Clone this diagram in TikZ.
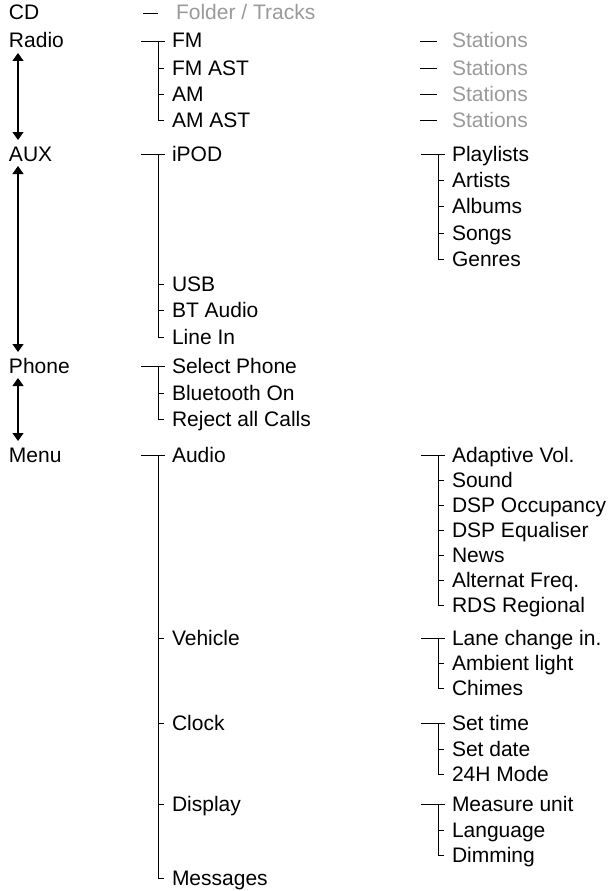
\documentclass[tikz,border=0pt]{standalone}
\usepackage{fontspec}
\setmainfont{Liberation Sans}
\usetikzlibrary{arrows.meta}
\definecolor{txtgray}{HTML}{9A9A9A}
\tikzset{
  lbl/.style={anchor=base west, inner sep=0pt, outer sep=0pt, font=\fontsize{21}{24}\selectfont},
  gry/.style={lbl, text=txtgray},
  ln/.style={line width=0.9pt, black},
  nav/.style={line width=1.2pt, black, {Triangle[width=11pt,length=8pt]}-{Triangle[width=11pt,length=8pt]}}
}
\newcommand\treeroot[2]{%
  \draw[ln] ([shift={(-31,-7)}]#1.base west) -- ([shift={(-7,-7)}]#1.base west);
  \draw[ln] ([shift={(-14,-7)}]#1.base west) |- ([shift={(-8,-7)}]#2.base west);}
\newcommand\treetick[1]{%
  \draw[ln] ([shift={(-14,-7)}]#1.base west) -- ([shift={(-8,-7)}]#1.base west);}
\newcommand\leaf[1]{%
  \draw[ln] ([shift={(-32,-7)}]#1.base west) -- ([shift={(-15,-7)}]#1.base west);}
\begin{document}
\begin{tikzpicture}[x=1pt,y=-1pt]
\useasboundingbox (0,0) rectangle (613,891);
% left column
\node[lbl] (cd) at (9,20) {CD};
\node[lbl] (radio) at (9,48) {Radio};
\node[lbl] (aux) at (9,161) {AUX};
\node[lbl] (phone) at (9,373) {Phone};
\node[lbl] (menu) at (9,462) {Menu};
\draw[nav] ([shift={(9,5)}]radio.base west) -- ([shift={(9,-21)}]aux.base west);
\draw[nav] ([shift={(9,5)}]aux.base west) -- ([shift={(9,-21)}]phone.base west);
\draw[nav] ([shift={(9,5)}]phone.base west) -- ([shift={(9,-21)}]menu.base west);
% CD
\node[gry] (folder) at (176,20) {Folder / Tracks};
\draw[ln] ([shift={(-33,-7)}]folder.base west) -- ([shift={(-18,-7)}]folder.base west);
% Radio
\node[lbl] (fm) at (172,48) {FM};
\node[lbl] (fmast) at (172,75) {FM AST};
\node[lbl] (am) at (172,101) {AM};
\node[lbl] (amast) at (172,127) {AM AST};
\treeroot{fm}{amast}\treetick{fmast}\treetick{am}
\node[gry] (st1) at (452,48) {Stations};
\node[gry] (st2) at (452,75) {Stations};
\node[gry] (st3) at (452,101) {Stations};
\node[gry] (st4) at (452,127) {Stations};
\leaf{st1}\leaf{st2}\leaf{st3}\leaf{st4}
% AUX
\node[lbl] (ipod) at (172,161) {iPOD};
\node[lbl] (usb) at (172,291) {USB};
\node[lbl] (bt) at (172,317) {BT Audio};
\node[lbl] (linein) at (172,344) {Line In};
\treeroot{ipod}{linein}\treetick{usb}\treetick{bt}
\node[lbl] (playlists) at (452,161) {Playlists};
\node[lbl] (artists) at (452,187) {Artists};
\node[lbl] (albums) at (452,213) {Albums};
\node[lbl] (songs) at (452,240) {Songs};
\node[lbl] (genres) at (452,266) {Genres};
\treeroot{playlists}{genres}\treetick{artists}\treetick{albums}\treetick{songs}
% Phone
\node[lbl] (select) at (172,373) {Select Phone};
\node[lbl] (bton) at (172,400) {Bluetooth On};
\node[lbl] (reject) at (172,426) {Reject all Calls};
\treeroot{select}{reject}\treetick{bton}
% Menu
\node[lbl] (audio) at (172,462) {Audio};
\node[lbl] (vehicle) at (172,645) {Vehicle};
\node[lbl] (clock) at (172,730) {Clock};
\node[lbl] (display) at (172,811) {Display};
\node[lbl] (messages) at (172,885) {Messages};
\treeroot{audio}{messages}\treetick{vehicle}\treetick{clock}\treetick{display}
% Audio
\node[lbl] (adaptive) at (452,462) {Adaptive Vol.};
\node[lbl] (sound) at (452,487) {Sound};
\node[lbl] (dspocc) at (452,512) {DSP Occupancy};
\node[lbl] (dspeq) at (452,537) {DSP Equaliser};
\node[lbl] (news) at (452,562) {News};
\node[lbl] (altfreq) at (452,587) {Alternat Freq.};
\node[lbl] (rds) at (452,612) {RDS Regional};
\treeroot{adaptive}{rds}\treetick{sound}\treetick{dspocc}\treetick{dspeq}\treetick{news}\treetick{altfreq}
% Vehicle
\node[lbl] (lane) at (452,645) {Lane change in.};
\node[lbl] (ambient) at (452,670) {Ambient light};
\node[lbl] (chimes) at (452,695) {Chimes};
\treeroot{lane}{chimes}\treetick{ambient}
% Clock
\node[lbl] (settime) at (452,730) {Set time};
\node[lbl] (setdate) at (452,756) {Set date};
\node[lbl] (h24) at (452,781) {24H Mode};
\treeroot{settime}{h24}\treetick{setdate}
% Display
\node[lbl] (measure) at (452,811) {Measure unit};
\node[lbl] (language) at (452,837) {Language};
\node[lbl] (dimming) at (452,862) {Dimming};
\treeroot{measure}{dimming}\treetick{language}
\end{tikzpicture}
\end{document}
